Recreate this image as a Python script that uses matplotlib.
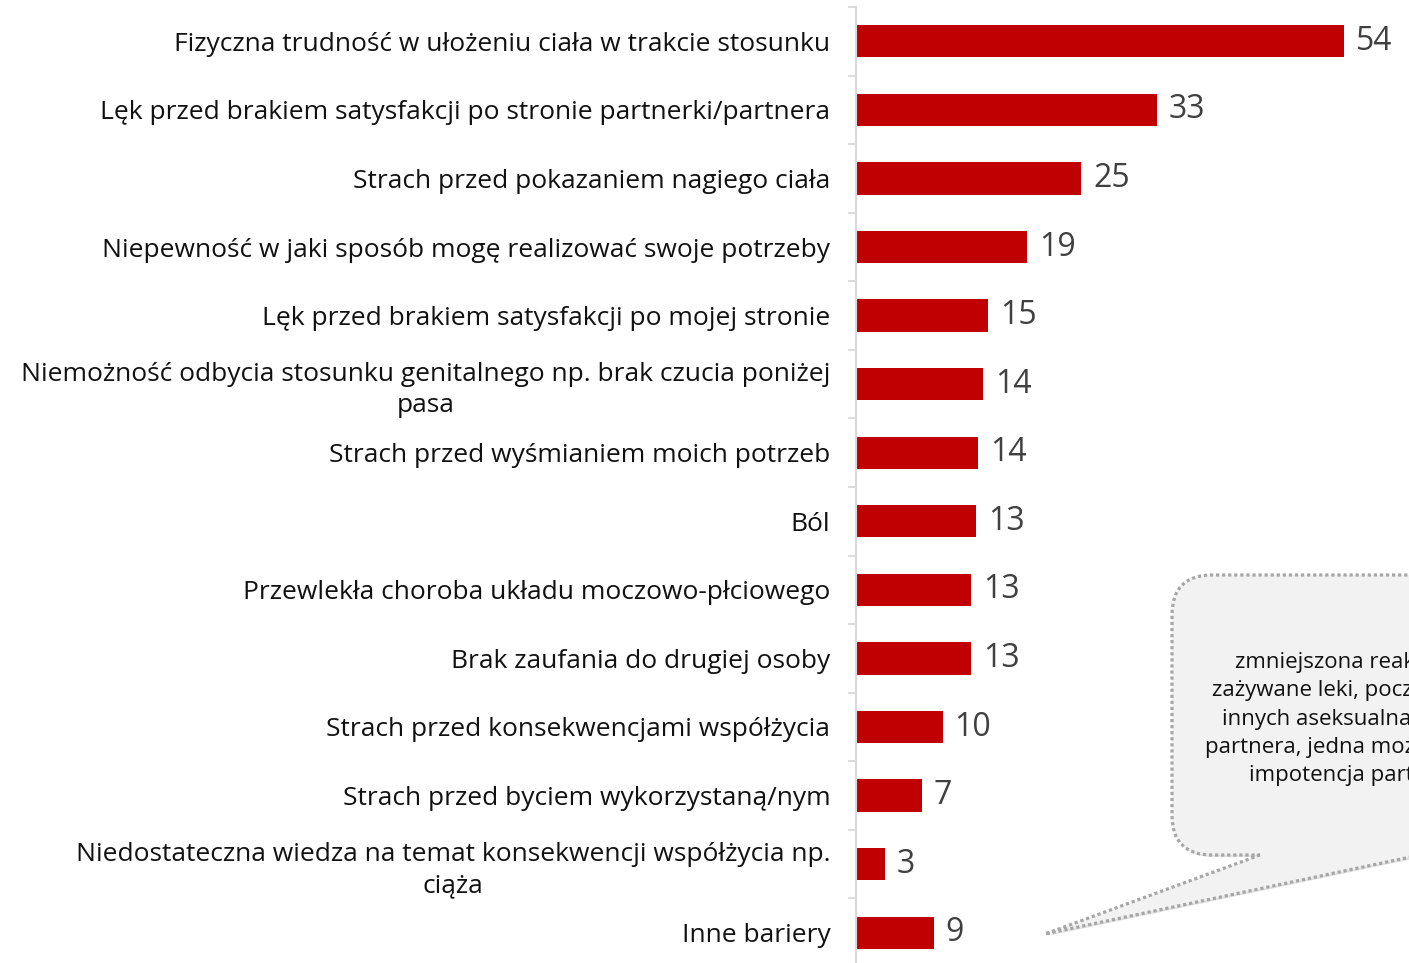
import matplotlib
matplotlib.use("Agg")
import matplotlib.pyplot as plt
from matplotlib.path import Path
from matplotlib.patches import PathPatch
import matplotlib.patheffects as pe

# Data
categories = [
    "Fizyczna trudność w ułożeniu ciała w trakcie stosunku",
    "Lęk przed brakiem satysfakcji po stronie partnerki/partnera",
    "Strach przed pokazaniem nagiego ciała",
    "Niepewność w jaki sposób mogę realizować swoje potrzeby",
    "Lęk przed brakiem satysfakcji po mojej stronie",
    "Niemożność odbycia stosunku genitalnego np. brak czucia poniżej\npasa",
    "Strach przed wyśmianiem moich potrzeb",
    "Ból",
    "Przewlekła choroba układu moczowo-płciowego",
    "Brak zaufania do drugiej osoby",
    "Strach przed konsekwencjami współżycia",
    "Strach przed byciem wykorzystaną/nym",
    "Niedostateczna wiedza na temat konsekwencji współżycia np.\nciąża",
    "Inne bariery",
]
values = [54.0, 33.3, 24.9, 18.9, 14.6, 14.05, 13.5, 13.3, 12.7, 12.7, 9.6, 7.3, 3.2, 8.6]

callout_lines = [
    "zmniejszona reakcja na",
    "zażywane leki, poczucie win",
    "innych aseksualna, brak u",
    "partnera, jedna możliwość to",
    "impotencja partnera",
]

plt.rcParams['font.family'] = ['Open Sans', 'DejaVu Sans']

W, H = 1409, 963
fig = plt.figure(figsize=(W / 100, H / 100), dpi=100)

# main bar chart
ax = fig.add_axes([856 / W, -4 / H, (W - 856) / W, 960 / H])
pos = list(range(len(categories)))
ax.barh(pos, values, height=0.47, color='#C00000')
ax.set_xlim(0, (W - 856) / 9.04)
ax.set_ylim(len(categories) - 0.5, -0.5)

for p, v in zip(pos, values):
    ax.annotate(f"{v:.0f}", (v, p), xytext=(8.5, 0), textcoords='offset points',
                va='center', ha='left', fontsize=23, color='#404040')

ax.set_yticks(pos)
ax.set_yticklabels(categories, fontsize=19, color='#111111')
for lab in ax.get_yticklabels():
    lab.set_multialignment('center')
    lab.set_linespacing(1.3)
ax.set_yticks([p - 0.5 for p in pos] + [len(pos) - 0.5], minor=True)
ax.tick_params(axis='y', which='major', length=0, pad=18.5)
ax.tick_params(axis='y', which='minor', length=5.5, width=1.3, color='#D9D9D9')
ax.set_xticks([])
for s in ['top', 'right', 'bottom']:
    ax.spines[s].set_visible(False)
ax.spines['left'].set_color('#D9D9D9')
ax.spines['left'].set_linewidth(1.5)

# callout bubble (overlay in pixel coordinates)
ov = fig.add_axes([0, 0, 1, 1], facecolor='none')
ov.set_xlim(0, W)
ov.set_ylim(H, 0)
ov.axis('off')

L, T, R, B, r = 1172, 575, 1620, 855, 40
verts = [
    (1260, B), (1045, 934), (1420, B), (R, B), (R, T), (L + r, T),
    (L, T), (L, T + r), (L, B - r), (L, B), (L + r, B), (1260, B),
]
codes = [
    Path.MOVETO, Path.LINETO, Path.LINETO, Path.LINETO, Path.LINETO, Path.LINETO,
    Path.CURVE3, Path.CURVE3, Path.LINETO, Path.CURVE3, Path.CURVE3, Path.CLOSEPOLY,
]
bubble = PathPatch(Path(verts, codes), facecolor='#F2F2F2', edgecolor='#A6A6A6',
                   linewidth=2.3, linestyle=(0, (1.0, 0.9)))
bubble.set_path_effects([pe.SimplePatchShadow(offset=(1.5, -1.5), alpha=0.15), pe.Normal()])
ov.add_patch(bubble)

ov.text(1355, 719, "\n".join(callout_lines), ha='center', va='center',
        fontsize=16, color='#111111', linespacing=1.45, clip_on=True)

fig.savefig("out.png", dpi=100)
